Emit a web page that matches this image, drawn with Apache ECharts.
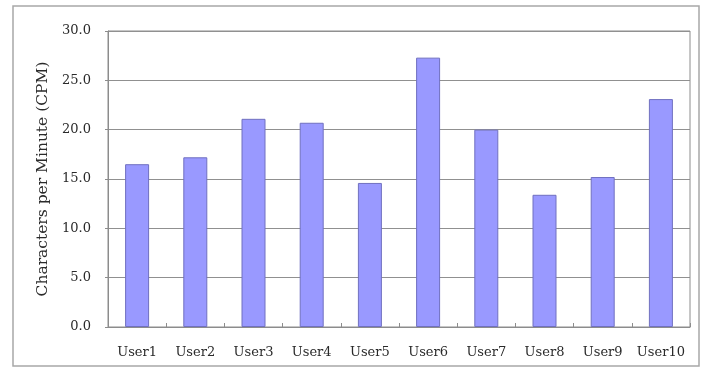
<!DOCTYPE html>
<html>
<head>
<meta charset="utf-8">
<script src="https://cdn.jsdelivr.net/npm/echarts@6/dist/echarts.min.js"></script>
<style>
  html, body { margin: 0; padding: 0; background: #ffffff; }
  #chart { width: 704px; height: 379px; }
</style>
</head>
<body>
<div id="chart"></div>
<script>
// Typing speed per test user
const users = ['User1', 'User2', 'User3', 'User4', 'User5', 'User6', 'User7', 'User8', 'User9', 'User10'];
const cpm = [16.5, 17.2, 21.1, 20.7, 14.6, 27.3, 20.0, 13.4, 15.2, 23.1];
const yTicks = { min: 0, max: 30, step: 5 };
const yTitle = 'Characters per Minute (CPM)';

const FONT = '"DejaVu Serif", "Liberation Serif", serif';
const TEXT = '#2a2a2a';

const chart = echarts.init(document.getElementById('chart'), null, { renderer: 'canvas' });
chart.setOption({
  backgroundColor: '#ffffff',
  animation: false,
  graphic: [{
    type: 'rect',
    shape: { x: 13, y: 6, width: 686, height: 360 },
    style: { fill: 'none', stroke: '#a8a8a8', lineWidth: 1.5 },
    silent: true
  }],
  grid: {
    left: 108, right: 14, top: 31, bottom: 52,
    show: true, borderColor: '#8c8c8c', borderWidth: 1, backgroundColor: '#ffffff'
  },
  xAxis: {
    type: 'category',
    data: users,
    axisLine: { lineStyle: { color: '#8c8c8c', width: 1 } },
    axisTick: { show: true, inside: true, length: 4, lineStyle: { color: '#8c8c8c' } },
    axisLabel: { color: TEXT, fontFamily: FONT, fontSize: 13, margin: 19, interval: 0, hideOverlap: false },
    splitLine: { show: false }
  },
  yAxis: {
    type: 'value',
    min: yTicks.min, max: yTicks.max, interval: yTicks.step,
    name: yTitle,
    nameLocation: 'middle',
    nameGap: 55,
    nameTextStyle: { color: TEXT, fontFamily: FONT, fontSize: 15.5 },
    axisLine: { show: true, lineStyle: { color: '#8c8c8c', width: 1 } },
    axisTick: { show: true, length: 3, lineStyle: { color: '#8c8c8c' } },
    axisLabel: {
      color: TEXT, fontFamily: FONT, fontSize: 13, margin: 17,
      formatter: v => v.toFixed(1)
    },
    splitLine: { show: true, lineStyle: { color: '#909090', width: 1 } }
  },
  series: [{
    type: 'bar',
    data: cpm,
    barWidth: 24,
    itemStyle: { color: '#9999ff', borderColor: '#7070c0', borderWidth: 1 }
  }]
});
</script>
</body>
</html>
